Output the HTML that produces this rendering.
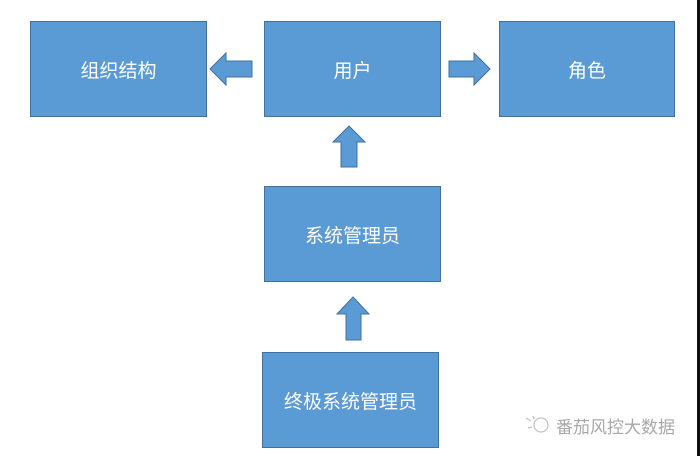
<!DOCTYPE html>
<html><head><meta charset="utf-8"><style>
html,body{margin:0;padding:0;background:#fff;}
body{width:700px;height:456px;position:relative;overflow:hidden;font-family:"Liberation Sans","Noto Sans CJK SC",sans-serif;}
.b{position:absolute;background:#5b9bd5;border:1px solid #41719c;box-sizing:border-box;color:#fff;font-size:19px;display:flex;align-items:center;justify-content:center;}
.wm{position:absolute;left:556px;top:413px;font-size:17px;color:#a8a8a8;letter-spacing:0px;}
.edge{position:absolute;left:697px;top:0;width:3px;height:456px;background:#111;}
</style></head><body>
<div class="b" style="left:30px;top:21px;width:177px;height:96px">组织结构</div>
<div class="b" style="left:264px;top:21px;width:177px;height:96px">用户</div>
<div class="b" style="left:499px;top:21px;width:176px;height:96px">角色</div>
<div class="b" style="left:264px;top:186px;width:177px;height:96px">系统管理员</div>
<div class="b" style="left:262px;top:352px;width:177px;height:96px">终极系统管理员</div>
<svg width="700" height="456" style="position:absolute;left:0;top:0">
<g fill="#5b9bd5" stroke="#41719c" stroke-width="1">
<polygon points="210,69 226,53 226,61 252,61 252,77 226,77 226,85"/>
<polygon points="490,69 474,53 474,61 449,61 449,77 474,77 474,85"/>
<polygon points="349,126 365,142 357,142 357,167 341,167 341,142 333,142"/>
<polygon points="353,297 369,314 361,314 361,340 346,340 346,314 337,314"/>
</g>
<g fill="none" stroke="#c4c4c4" stroke-width="1.3">
<circle cx="541" cy="425" r="7"/><path d="M526 418 l5 3 M528 428 l4 -1 M533 416 l1 3"/>
</g>
</svg>
<div class="wm">番茄风控大数据</div>
<div class="edge"></div>
</body></html>
